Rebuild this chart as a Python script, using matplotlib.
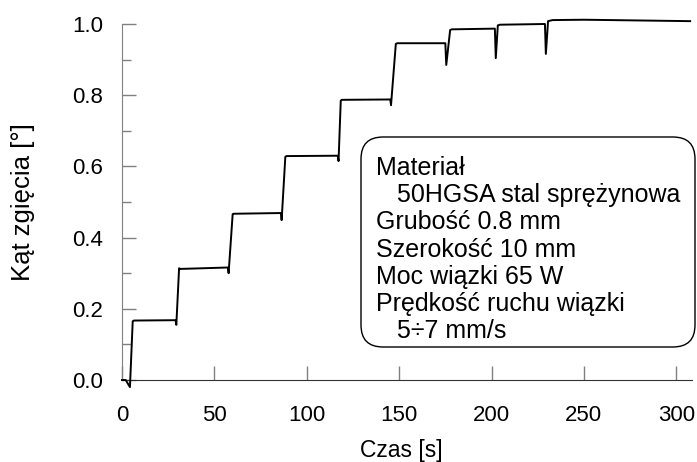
import matplotlib.pyplot as plt
from matplotlib.patches import FancyBboxPatch
from matplotlib.transforms import IdentityTransform
from matplotlib.ticker import MultipleLocator

plt.rcParams['font.family'] = ['Liberation Sans', 'DejaVu Sans']

# czas [s] i kąt zgięcia [°]
czas = [0, 2.0, 4.3, 5.8, 6.5, 29.0, 29.4, 30.9, 31.5, 57.3, 57.7, 59.9, 60.5,
        86.0, 86.4, 88.4, 89.0, 116.8, 117.2, 118.4, 119.0, 145.2, 145.6,
        148.2, 149.0, 175.0, 175.5, 177.6, 178.5, 201.8, 202.3, 203.4, 204.5,
        228.9, 229.4, 230.6, 233.0, 250.0, 307.5]
kat = [0.0, 0.0, -0.02, 0.165, 0.167, 0.168, 0.155, 0.314, 0.312, 0.316, 0.300,
       0.466, 0.467, 0.469, 0.449, 0.627, 0.629, 0.630, 0.615, 0.785, 0.787,
       0.788, 0.772, 0.944, 0.946, 0.946, 0.885, 0.983, 0.985, 0.987, 0.904,
       0.996, 0.998, 1.000, 0.916, 1.008, 1.011, 1.012, 1.008]

opis = ["Materiał",
        "   50HGSA stal sprężynowa",
        "Grubość 0.8 mm",
        "Szerokość 10 mm",
        "Moc wiązki 65 W",
        "Prędkość ruchu wiązki",
        "   5÷7 mm/s"]

W, H = 697, 462
fig = plt.figure(figsize=(W / 100, H / 100), dpi=100)
ax = fig.add_axes([122 / W, 1 - 380 / H, 570 / W, 356 / H])

ax.plot(czas, kat, color='black', lw=1.4, clip_on=False, zorder=3)

ax.set_xlim(0, 308.5)
ax.set_ylim(0, 1.0)
ax.xaxis.set_major_locator(MultipleLocator(50))
ax.yaxis.set_major_locator(MultipleLocator(0.2))
ax.yaxis.set_minor_locator(MultipleLocator(0.1))
ax.yaxis.set_major_formatter(lambda v, p: f"{v:.1f}")

for s in ['top', 'right']:
    ax.spines[s].set_visible(False)
ax.spines['left'].set_color('#808080')
ax.spines['bottom'].set_color('#333333')
ax.tick_params(which='major', direction='in', length=10, width=1,
               color='#808080')
ax.tick_params(which='minor', direction='in', length=6.5, width=1,
               color='#808080')
ax.tick_params(axis='y', pad=13.5, labelsize=16)
ax.tick_params(axis='x', pad=18, labelsize=16)

ax.set_xlabel("Czas [s]", fontsize=16.5, va='baseline')
ax.xaxis.set_label_coords((401.5 - 122) / 570, (380 - 457) / 356)
ax.set_ylabel("Kąt zgięcia [°]", fontsize=18.5, va='center')
ax.yaxis.set_label_coords((23 - 122) / 570, 0.5)

# ramka z opisem (współrzędne w pikselach)
box = FancyBboxPatch((361, H - 347), 334, 210,
                     boxstyle="round,pad=0,rounding_size=22",
                     transform=IdentityTransform(), fc='white', ec='black',
                     lw=1.0, zorder=5)
fig.patches.append(box)
for i, linia in enumerate(opis):
    fig.text(376 / W, 1 - (175 + 27.2 * i) / H, linia, fontsize=18,
             ha='left', va='baseline', zorder=6)

fig.savefig("out.png", dpi=100)
